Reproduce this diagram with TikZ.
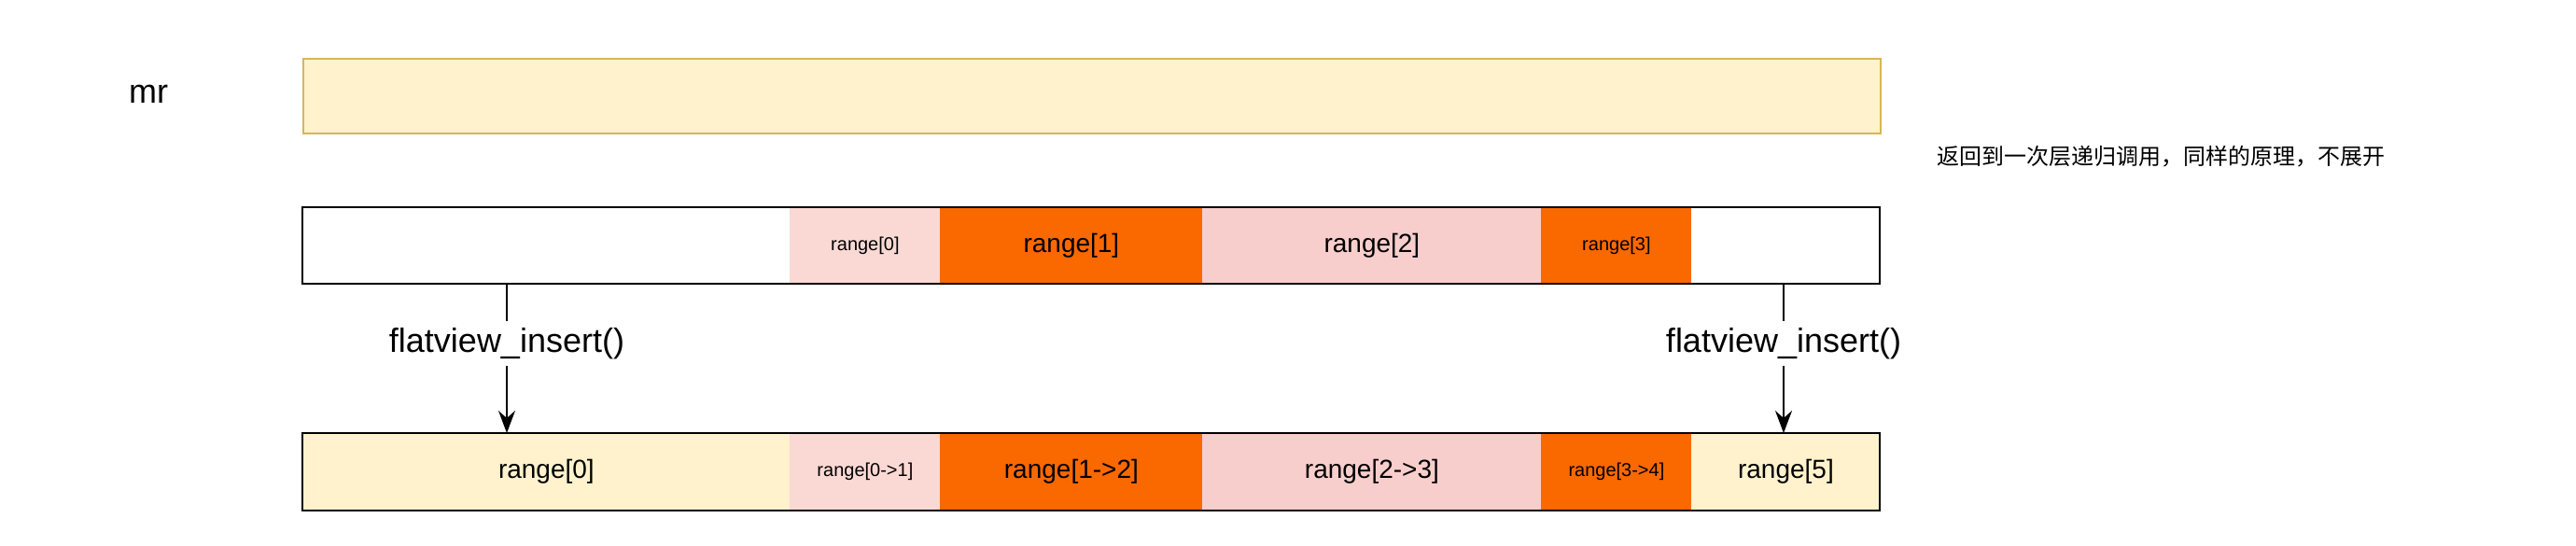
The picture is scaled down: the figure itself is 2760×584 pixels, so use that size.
\documentclass[tikz,border=0pt]{standalone}
\usepackage{fontspec}
\setmainfont{Liberation Sans}
\newfontfamily\cjk{Noto Sans CJK SC}
\usetikzlibrary{arrows.meta}
\definecolor{lightyellow}{HTML}{FFF2CC}
\definecolor{darkyellow}{HTML}{D6B656}
\definecolor{lightpink}{HTML}{FAD9D5}
\definecolor{midpink}{HTML}{F8CECC}
\definecolor{hotorange}{HTML}{FA6800}

\tikzset{%
  % Specifications for style of nodes:
         seg/.style = {rectangle, draw = none, anchor=north west, minimum height=41pt, inner sep=0pt, font=\fontsize{14}{16}\selectfont},
       small/.style = {font=\fontsize{10}{12}\selectfont},
       frame/.style = {draw = black, line width=1pt},
}

\begin{document}
\begin{tikzpicture}[x=0.5pt, y=-0.5pt]
    \useasboundingbox (0,0) rectangle (2760,584);
    % Draw nodes
    \node (mr)     at (159,101) {\fontsize{18}{20}\selectfont mr};
    \node (mrbox)  [seg, fill=lightyellow, draw=darkyellow, line width=1pt, minimum width=845pt, minimum height=40pt] at (324,62) {};
    \node (note)   [anchor=west] at (2068,168) {\cjk\fontsize{12}{14}\selectfont 返回到一次层递归调用，同样的原理，不展开};

    % middle row
    \node (m0) [seg, fill=white,      minimum width=261pt]         at (324,222)  {};
    \node (m1) [seg, fill=lightpink,  minimum width=80.5pt, small] at (846,222)  {range[0]};
    \node (m2) [seg, fill=hotorange,  minimum width=140.5pt]       at (1007,222) {range[1]};
    \node (m3) [seg, fill=midpink,    minimum width=181.5pt]       at (1288,222) {range[2]};
    \node (m4) [seg, fill=hotorange,  minimum width=80.5pt, small] at (1651,222) {range[3]};
    \node (m5) [seg, fill=white,      minimum width=101pt]         at (1812,222) {};
    \draw[frame] (324,222) rectangle (2014,304);

    % bottom row
    \node (b0) [seg, fill=lightyellow, minimum width=261pt]         at (324,464)  {range[0]};
    \node (b1) [seg, fill=lightpink,   minimum width=80.5pt, small] at (846,464)  {range[0->1]};
    \node (b2) [seg, fill=hotorange,   minimum width=140.5pt]       at (1007,464) {range[1->2]};
    \node (b3) [seg, fill=midpink,     minimum width=181.5pt]       at (1288,464) {range[2->3]};
    \node (b4) [seg, fill=hotorange,   minimum width=80.5pt, small] at (1651,464) {range[3->4]};
    \node (b5) [seg, fill=lightyellow, minimum width=101pt]         at (1812,464) {range[5]};
    \draw[frame] (324,464) rectangle (2014,547);

    % labels
    \node (fvl) [fill=white, font=\fontsize{18}{20}\selectfont] at (543,368)  {flatview\_insert()};
    \node (fvr) [fill=white, font=\fontsize{18}{20}\selectfont] at (1911,368) {flatview\_insert()};

    % Draw arrows
    \draw[line width=1pt] (fvl |- m0.south) -- (fvl);
    \draw[line width=1pt, -{Stealth[length=12pt, width=9pt, inset=4pt]}] (fvl) -- (fvl |- b0.north);
    \draw[line width=1pt] (fvr |- m5.south) -- (fvr);
    \draw[line width=1pt, -{Stealth[length=12pt, width=9pt, inset=4pt]}] (fvr) -- (fvr |- b5.north);
\end{tikzpicture}
\end{document}
